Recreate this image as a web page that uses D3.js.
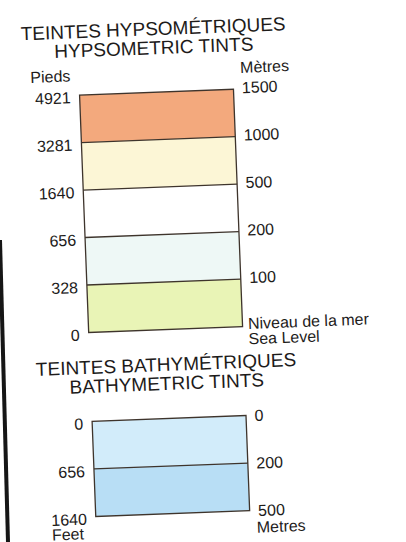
<!DOCTYPE html>
<html>
<head>
<meta charset="utf-8">
<script src="https://cdn.jsdelivr.net/npm/d3@7"></script>
<style>
  body { margin: 0; background: #fff; }
  text { font-family: "Liberation Sans", Arial, sans-serif; fill: #1d1b1a; }
</style>
</head>
<body>
<div class="main"></div>
<script>

// hypsometric tints (land), top to bottom
const hypsoFeet = ["4921", "3281", "1640", "656", "328", "0"]
const hypsoMetres = ["1500", "1000", "500", "200", "100"]
const hypsoColors = ["#f3a97d", "#fcf6d6", "#ffffff", "#eef8f6", "#e9f4b6"]

// bathymetric tints (sea), top to bottom
const bathyFeet = ["0", "656", "1640"]
const bathyMetres = ["0", "200", "500"]
const bathyColors = ["#d2ecfa", "#b8def5"]

const titles = {
    hypso: ["TEINTES HYPSOMÉTRIQUES", "HYPSOMETRIC TINTS"],
    bathy: ["TEINTES BATHYMÉTRIQUES", "BATHYMETRIC TINTS"]
}

////////////
// CANVAS //
////////////

const w = 406
const h = 542

const svg = d3.select(".main")
    .append("svg")
    .attr("width", w)
    .attr("height", h)

// edge of the scanned page
svg.append("line")
    .attr("x1", 0).attr("y1", 240)
    .attr("x2", 8).attr("y2", h)
    .attr("stroke", "#161616")
    .attr("stroke-width", 4)

// the whole scan is tilted a little
const g = svg.append("g")
    .attr("transform", "rotate(-2.2, 165, 300)")

const xLeft = 87.5
const xRight = 241.5
const cx = 163.5

////////////
// LEGEND //
////////////

const legend = (colors, feet, metres, yRange, rightShift) => {

    const yScale = d3.scaleLinear()
        .domain([0, colors.length])
        .range(yRange)

    g.selectAll(null)
        .data(colors)
        .enter()
        .append("rect")
        .attr("x", xLeft)
        .attr("y", (d, i) => yScale(i))
        .attr("width", xRight - xLeft)
        .attr("height", (d, i) => yScale(i + 1) - yScale(i))
        .attr("fill", d => d)

    g.selectAll(null)
        .data(d3.range(1, colors.length))
        .enter()
        .append("line")
        .attr("x1", xLeft).attr("x2", xRight)
        .attr("y1", d => yScale(d)).attr("y2", d => yScale(d))
        .attr("stroke", "#3e342c")
        .attr("stroke-width", 1.3)

    g.append("rect")
        .attr("x", xLeft)
        .attr("y", yRange[0])
        .attr("width", xRight - xLeft)
        .attr("height", yRange[1] - yRange[0])
        .attr("fill", "none")
        .attr("stroke", "#3e342c")
        .attr("stroke-width", 1.3)

    g.selectAll(null)
        .data(feet)
        .enter()
        .append("text")
        .text(d => d)
        .attr("x", 78.5)
        .attr("y", (d, i) => yScale(i) + 2)
        .attr("dy", "0.36em")
        .attr("text-anchor", "end")
        .style("font-size", "16px")

    g.selectAll(null)
        .data(metres)
        .enter()
        .append("text")
        .text(d => d)
        .attr("x", 250)
        .attr("y", (d, i) => yScale(i) + rightShift)
        .attr("dy", "0.36em")
        .style("font-size", "16px")

    return yScale
}

const title = (lines, y1, y2) => {
    g.append("text").text(lines[0])
        .attr("x", cx).attr("y", y1)
        .attr("text-anchor", "middle")
        .style("font-size", "19px")
    g.append("text").text(lines[1])
        .attr("x", cx).attr("y", y2)
        .attr("text-anchor", "middle")
        .style("font-size", "19px")
}

// HYPSOMETRIC
title(titles.hypso, 35, 54)
const hy = legend(hypsoColors, hypsoFeet, hypsoMetres, [92, 329.5], -1.5)

g.append("text").text("Pieds")
    .attr("x", 79).attr("y", 78)
    .attr("text-anchor", "end")
    .style("font-size", "16px")
g.append("text").text("Mètres")
    .attr("x", 249).attr("y", 76)
    .style("font-size", "16px")
g.append("text").text("Niveau de la mer")
    .attr("x", 247).attr("y", hy(hypsoColors.length) + 2.7)
    .style("font-size", "16px")
g.append("text").text("Sea Level")
    .attr("x", 247).attr("y", hy(hypsoColors.length) + 18)
    .style("font-size", "16px")

// BATHYMETRIC
title(titles.bathy, 371, 390)
const by = legend(bathyColors, bathyFeet, bathyMetres, [418.5, 513.7], 0)

g.append("text").text("Feet")
    .attr("x", 59).attr("y", 536)
    .attr("text-anchor", "middle")
    .style("font-size", "16px")
g.append("text").text("Metres")
    .attr("x", 248).attr("y", 536)
    .style("font-size", "16px")

</script>
</body>
</html>
